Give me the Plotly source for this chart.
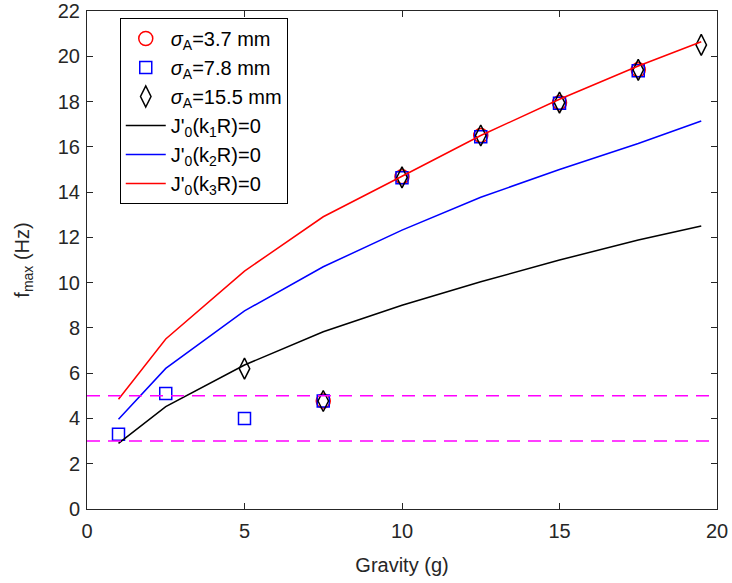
import plotly.graph_objects as go

# Measured points
x_sq = [1, 2.5, 5, 7.5, 10, 12.5, 15, 17.5]
y_sq = [3.3, 5.1, 4.0, 4.77, 14.63, 16.45, 17.93, 19.36]
x_ci = [7.5, 10, 12.5, 15, 17.5]
y_ci = [4.77, 14.68, 16.5, 17.95, 19.4]
x_di = [5, 7.5, 10, 12.5, 15, 17.5, 19.5]
y_di = [6.2, 4.77, 14.65, 16.5, 17.95, 19.4, 20.5]

# Theory curves
x_th = [1, 2.5, 5, 7.5, 10, 12.5, 15, 17.5, 19.5]
y_k1 = [2.9, 4.52, 6.36, 7.83, 9.0, 10.04, 11.0, 11.88, 12.5]
y_k2 = [3.96, 6.21, 8.75, 10.7, 12.32, 13.77, 15.0, 16.15, 17.14]
y_k3 = [4.85, 7.51, 10.51, 12.91, 14.7, 16.5, 18.1, 19.57, 20.64]

# Reference dashed levels
x_ref = [0, 20]
ref_levels = [5, 3]

font_family = "Liberation Sans, Arial, sans-serif"
txt = "#262626"

fig = go.Figure()
fig.add_trace(go.Scatter(x=x_ci, y=y_ci, mode="markers", name="<i>σ</i><sub>A</sub>=3.7 mm",
                         marker=dict(symbol="circle-open", size=14, color="red", line=dict(width=1.5, color="red"))))
fig.add_trace(go.Scatter(x=x_sq, y=y_sq, mode="markers", name="<i>σ</i><sub>A</sub>=7.8 mm",
                         marker=dict(symbol="square-open", size=12, color="blue", line=dict(width=1.5, color="blue"))))
fig.add_trace(go.Scatter(x=x_di, y=y_di, mode="markers", name="<i>σ</i><sub>A</sub>=15.5 mm",
                         marker=dict(symbol="diamond-tall-open", size=15, color="black", line=dict(width=1.5, color="black"))))
fig.add_trace(go.Scatter(x=x_th, y=y_k1, mode="lines", name="J'<sub>0</sub>(k<sub>1</sub>R)=0",
                         line=dict(color="black", width=1.5)))
fig.add_trace(go.Scatter(x=x_th, y=y_k2, mode="lines", name="J'<sub>0</sub>(k<sub>2</sub>R)=0",
                         line=dict(color="blue", width=1.5)))
fig.add_trace(go.Scatter(x=x_th, y=y_k3, mode="lines", name="J'<sub>0</sub>(k<sub>3</sub>R)=0",
                         line=dict(color="red", width=1.5)))
for lv in ref_levels:
    fig.add_trace(go.Scatter(x=x_ref, y=[lv, lv], mode="lines", showlegend=False,
                             line=dict(color="magenta", width=1.5, dash="13px,8px")))

axis_common = dict(showline=True, linecolor="#262626", linewidth=1, mirror="ticks",
                   ticks="inside", ticklen=6, tickcolor="#262626", showgrid=False, zeroline=False,
                   automargin=False, ticklabeloverflow="allow",
                   tickfont=dict(family=font_family, size=20, color=txt))

fig.update_layout(
    width=732, height=583,
    margin=dict(l=87, r=15, t=11, b=74),
    paper_bgcolor="white", plot_bgcolor="white",
    font=dict(family=font_family, color=txt),
    xaxis=dict(range=[0, 20], tickvals=[0, 5, 10, 15, 20], ticklabelstandoff=4,
               title=dict(text="Gravity (g)", font=dict(family=font_family, size=20, color=txt), standoff=16),
               **axis_common),
    yaxis=dict(range=[0, 22], tickvals=list(range(0, 23, 2)), ticklabelstandoff=2,
               title=dict(text="f<sub>max</sub> (Hz)", font=dict(family=font_family, size=20, color=txt), standoff=22),
               **axis_common),
    legend=dict(x=0.052, y=0.986, xanchor="left", yanchor="top",
                bgcolor="white", bordercolor="black", borderwidth=1,
                font=dict(family=font_family, size=20, color="black"),
                tracegroupgap=0, itemwidth=40),
    showlegend=True,
)

fig.write_html("out.html", config={"displayModeBar": False},
               post_script="document.body.style.margin='0';")
